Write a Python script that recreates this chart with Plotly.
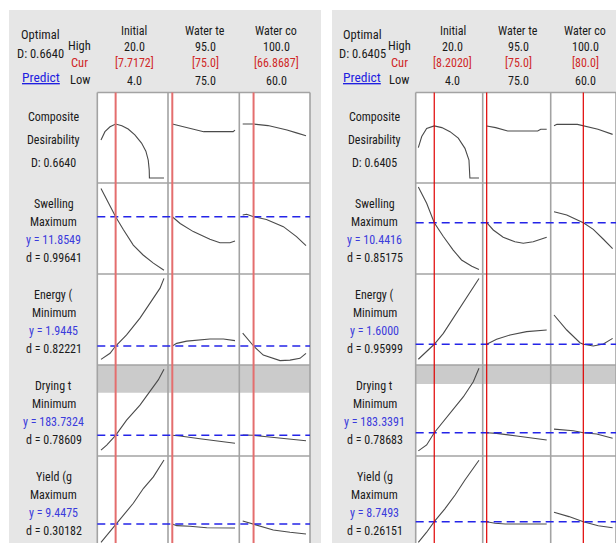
import plotly.graph_objects as go

W, H = 616, 543

# ---------------- data ----------------
factors = ["Initial", "Water te", "Water co"]
f_high = ["20.0", "95.0", "100.0"]
f_low = ["4.0", "75.0", "60.0"]
responses = ["Composite", "Swelling", "Energy (", "Drying t", "Yield (g"]
goals = ["Desirability", "Maximum", "Minimum", "Minimum", "Maximum"]

# panel A (left)
A_D = "0.6640"
A_cur = [7.7172, 75.0, 66.8687]
A_cur_lbl = ["[7.7172]", "[75.0]", "[66.8687]"]
A_resp_y = [None, 11.8549, 1.9445, 183.7324, 9.4475]
A_resp_d = [None, "0.99641", "0.82221", "0.78609", "0.30182"]
A_drying_limit = 254.7

# panel B (right)
B_D = "0.6405"
B_cur = [8.2020, 75.0, 80.0]
B_cur_lbl = ["[8.2020]", "[75.0]", "[80.0]"]
B_resp_y = [None, 10.4416, 1.6000, 183.3391, 8.7493]
B_resp_d = [None, "0.85175", "0.95999", "0.78683", "0.26151"]
B_drying_limit = 264.5

# ---- curves panel A ----
A_comp_initial_x = [4.0, 5.0, 6.3, 7.7172, 9.3, 10.9, 12.6, 14.3, 15.4, 16.0, 16.25, 16.3, 20.0]
A_comp_initial_y = [0.467, 0.57, 0.63, 0.664, 0.643, 0.603, 0.53, 0.43, 0.33, 0.22, 0.10, 0.0, 0.0]
A_comp_watert_x = [75, 80, 85, 90, 94.4, 95]
A_comp_watert_y = [0.664, 0.617, 0.570, 0.570, 0.570, 0.59]
A_comp_waterc_x = [60, 66.8687, 76, 82, 88, 94, 100]
A_comp_waterc_y = [0.664, 0.664, 0.645, 0.62, 0.59, 0.555, 0.52]

A_swel_initial_x = [4, 5.5, 7.7172, 9.7, 12.2, 14.7, 17.3, 20]
A_swel_initial_y = [15.0, 13.7, 11.8549, 10.4, 8.7, 7.6, 6.7, 5.9]
A_swel_watert_x = [75, 77.5, 81.7, 87, 90.2, 93.4, 95]
A_swel_watert_y = [11.8549, 11.1, 10.2, 9.35, 8.97, 8.97, 9.16]
A_swel_waterc_x = [60, 62.5, 66.8687, 75, 85.7, 94, 100]
A_swel_waterc_y = [12.05, 12.12, 11.8549, 11.55, 10.75, 9.65, 8.65]

A_ener_initial_x = [4, 6.3, 7.7172, 10.5, 13.9, 16.9, 19, 20]
A_ener_initial_y = [1.05, 1.46, 1.9445, 2.68, 3.8, 5.0, 5.8, 6.45]
A_ener_watert_x = [75, 76.4, 79.6, 82.8, 87, 91.3, 95]
A_ener_watert_y = [1.9445, 2.12, 2.27, 2.32, 2.41, 2.41, 2.3]
A_ener_waterc_x = [60, 66.8687, 73, 83.6, 89.9, 96.2, 100]
A_ener_waterc_y = [2.8, 1.9445, 1.34, 0.97, 1.0, 1.12, 1.45]

A_dry_initial_x = [4, 5.45, 7.7172, 10.5, 13.9, 16.4, 18.55, 20]
A_dry_initial_y = [159, 167.5, 183.7324, 209, 234, 256, 276, 294]
A_dry_watert_x = [75, 77.5, 83.8, 89.2, 95]
A_dry_watert_y = [183.7324, 182.5, 178, 174.7, 170.4]
A_dry_waterc_x = [60, 66.8687, 75.2, 87.8, 100]
A_dry_waterc_y = [184.3, 183.7324, 181.4, 178, 174.7]

A_yield_initial_x = [4, 5.85, 7.7172, 9.66, 12.2, 14.8, 17.3, 20]
A_yield_initial_y = [6.4, 7.9, 9.4475, 10.95, 12.9, 15.4, 17.3, 20.1]
A_yield_watert_x = [75, 76.4, 80.6, 86, 95]
A_yield_watert_y = [9.4475, 9.17, 9.06, 8.83, 8.78]
A_yield_waterc_x = [60, 66.8687, 79.3, 89.9, 100]
A_yield_waterc_y = [9.95, 9.4475, 8.45, 8.06, 7.78]

# ---- curves panel B ----
B_comp_initial_x = [4, 4.9, 6.2, 7.5, 8.202, 10.2, 12.36, 14.54, 16.3, 17.36, 17.55, 17.6, 20]
B_comp_initial_y = [0.373, 0.51, 0.61, 0.636, 0.6405, 0.62, 0.57, 0.49, 0.365, 0.22, 0.10, 0.0, 0.0]
B_comp_watert_x = [75, 78, 82, 92, 93, 95]
B_comp_watert_y = [0.6405, 0.62, 0.578, 0.578, 0.6, 0.6]
B_comp_waterc_x = [60, 62, 76, 80, 90, 100]
B_comp_waterc_y = [0.643, 0.66, 0.66, 0.6405, 0.6, 0.537]

B_swel_initial_x = [4, 6.2, 8.202, 10.6, 13.2, 15.4, 18.1, 20]
B_swel_initial_y = [14.4, 12.6, 10.4416, 8.9, 7.4, 6.3, 5.6, 5.25]
B_swel_watert_x = [75, 77.2, 80.5, 84.4, 87.2, 90.5, 95]
B_swel_watert_y = [10.4416, 9.63, 8.82, 8.33, 8.15, 8.33, 8.82]
B_swel_waterc_x = [60, 68.7, 80, 86.8, 93.7, 100]
B_swel_waterc_y = [11.66, 11.3, 10.4416, 9.7, 8.6, 7.55]

B_ener_initial_x = [4, 6, 8.202, 10.6, 14.1, 17.2, 20]
B_ener_initial_y = [0.6, 1.08, 1.6, 2.33, 3.66, 4.88, 5.98]
B_ener_watert_x = [75, 78.3, 82.8, 88.3, 95]
B_ener_watert_y = [1.6, 1.93, 2.22, 2.44, 2.55]
B_ener_waterc_x = [60, 68.7, 77.7, 80, 86.8, 93.7, 100]
B_ener_waterc_y = [3.55, 2.55, 1.7, 1.6, 1.48, 1.62, 1.99]

B_dry_initial_x = [4, 6.2, 8.202, 10.6, 13.2, 15.9, 18.5, 20]
B_dry_initial_y = [153, 163, 183.3391, 201.7, 221, 243.4, 268.4, 290.7]
B_dry_watert_x = [75, 78.3, 85, 95]
B_dry_watert_y = [183.3391, 182.3, 177.8, 171.2]
B_dry_waterc_x = [60, 73.2, 80, 89.1, 100]
B_dry_waterc_y = [189.3, 186.5, 183.3391, 181.2, 174]

B_yield_initial_x = [4, 6.2, 8.202, 11, 13.7, 16.3, 20]
B_yield_initial_y = [5.3, 7.0, 8.7493, 10.9, 13.2, 15.7, 19.0]
B_yield_watert_x = [75, 77.8, 81.2, 95]
B_yield_watert_y = [8.7493, 8.48, 8.37, 8.37]
B_yield_waterc_x = [60, 70.2, 80, 90.2, 100]
B_yield_waterc_y = [10.32, 9.6, 8.7493, 8.08, 7.75]

# ---------------- layout geometry (pixels) ----------------
FONT = "Liberation Sans Narrow, Roboto Condensed, DejaVu Sans Condensed, Liberation Sans, Arial"
TXT = "#1a1a1a"
RED_TXT = "#d02828"
BLUE_TXT = "#3b3bdc"
ROW_EDGES = [92.5, 183, 274, 365, 456, 543]

panels = [
    dict(bg=(9, 321), cols=[97.3, 168, 239.3, 310], lab_x=53.5, opt_x=40.5, hcl_x=80,
         head_x=[134, 205, 276], xr=[(3.06, 21.02), (73.63, 96.37), (57.85, 102.53)],
         yr=[(-0.0615, 1.052), (5.49, 15.6), (0.677, 6.743), (149.23, 300.9), (6.28, 20.78)],
         D=A_D, cur=A_cur, cur_lbl=A_cur_lbl, ry=A_resp_y, rd=A_resp_d, lim=A_drying_limit,
         red="rgb(228,110,110)", redw=2.0,
         curves=[[(A_comp_initial_x, A_comp_initial_y), (A_comp_watert_x, A_comp_watert_y), (A_comp_waterc_x, A_comp_waterc_y)],
                 [(A_swel_initial_x, A_swel_initial_y), (A_swel_watert_x, A_swel_watert_y), (A_swel_waterc_x, A_swel_waterc_y)],
                 [(A_ener_initial_x, A_ener_initial_y), (A_ener_watert_x, A_ener_watert_y), (A_ener_waterc_x, A_ener_waterc_y)],
                 [(A_dry_initial_x, A_dry_initial_y), (A_dry_watert_x, A_dry_watert_y), (A_dry_waterc_x, A_dry_waterc_y)],
                 [(A_yield_initial_x, A_yield_initial_y), (A_yield_watert_x, A_yield_watert_y), (A_yield_waterc_x, A_yield_waterc_y)]]),
    dict(bg=(332, 640), cols=[415.7, 482.7, 550.7, 616], lab_x=374.5, opt_x=362, hcl_x=399,
         head_x=[452.7, 518.3, 585], xr=[(3.31, 20.98), (73.67, 96.33), (57.75, 102.3)],
         yr=[(-0.0615, 1.052), (4.74, 14.85), (0.217, 6.283), (144.53, 296.2), (5.2, 19.7)],
         D=B_D, cur=B_cur, cur_lbl=B_cur_lbl, ry=B_resp_y, rd=B_resp_d, lim=B_drying_limit,
         red="rgb(225,0,0)", redw=1.2,
         curves=[[(B_comp_initial_x, B_comp_initial_y), (B_comp_watert_x, B_comp_watert_y), (B_comp_waterc_x, B_comp_waterc_y)],
                 [(B_swel_initial_x, B_swel_initial_y), (B_swel_watert_x, B_swel_watert_y), (B_swel_waterc_x, B_swel_waterc_y)],
                 [(B_ener_initial_x, B_ener_initial_y), (B_ener_watert_x, B_ener_watert_y), (B_ener_waterc_x, B_ener_waterc_y)],
                 [(B_dry_initial_x, B_dry_initial_y), (B_dry_watert_x, B_dry_watert_y), (B_dry_waterc_x, B_dry_waterc_y)],
                 [(B_yield_initial_x, B_yield_initial_y), (B_yield_watert_x, B_yield_watert_y), (B_yield_waterc_x, B_yield_waterc_y)]]),
]


def fx(px):
    return min(max(px / W, 0.0), 1.0)


def fy(py):
    return min(max(1 - py / H, 0.0), 1.0)


fig = go.Figure()
layout = {}
shapes_bg, shapes_mid, shapes_top, annotations = [], [], [], []


def ann(x, y, text, color=TXT, size=12):
    annotations.append(dict(x=fx(x), y=fy(y), xref="paper", yref="paper", text=text,
                            showarrow=False, xanchor="center", yanchor="middle",
                            font=dict(family=FONT, size=size, color=color)))


for p, P in enumerate(panels):
    cols = P["cols"]
    # panel background and plotting region
    shapes_bg.append(dict(type="rect", xref="paper", yref="paper", x0=fx(P["bg"][0]), x1=fx(P["bg"][1]),
                          y0=0, y1=fy(10), fillcolor="#e6e6e6", line=dict(width=0), layer="below"))
    shapes_bg.append(dict(type="rect", xref="paper", yref="paper", x0=fx(cols[0]), x1=fx(cols[3]),
                          y0=0, y1=fy(ROW_EDGES[0]), fillcolor="white", line=dict(width=0), layer="below"))
    for r in range(5):
        for c in range(3):
            idx = p * 15 + r * 3 + c + 1
            s = "" if idx == 1 else str(idx)
            layout["xaxis" + s] = dict(domain=[fx(cols[c]), fx(cols[c + 1])], range=list(P["xr"][c]),
                                       visible=False, fixedrange=True, anchor="y" + s)
            layout["yaxis" + s] = dict(domain=[fy(ROW_EDGES[r + 1]), fy(ROW_EDGES[r])], range=list(P["yr"][r]),
                                       visible=False, fixedrange=True, anchor="x" + s)
            cx, cy = P["curves"][r][c]
            fig.add_trace(go.Scatter(x=cx, y=cy, mode="lines", xaxis="x" + s, yaxis="y" + s,
                                     line=dict(color="#4a4a4a", width=1.1), hoverinfo="skip", showlegend=False))
        s0 = "" if p * 15 + r * 3 + 1 == 1 else str(p * 15 + r * 3 + 1)
        if r == 3:
            shapes_mid.append(dict(type="rect", xref="paper", yref="y" + s0, x0=fx(cols[0]), x1=fx(cols[3]),
                                   y0=P["lim"], y1=P["yr"][r][1], fillcolor="#cbcbcb", line=dict(width=0),
                                   layer="below"))
        if P["ry"][r] is not None:
            shapes_top.append(dict(type="line", xref="paper", yref="y" + s0, x0=fx(cols[0]), x1=fx(cols[3]),
                                   y0=P["ry"][r], y1=P["ry"][r],
                                   line=dict(color="#2424e8", width=1.6, dash="8px,5px"), layer="above"))
    # borders
    for e in cols:
        shapes_mid.append(dict(type="line", xref="paper", yref="paper", x0=fx(e), x1=fx(e), y0=0,
                               y1=fy(ROW_EDGES[0]), line=dict(color="#a3a3a3", width=1.6), layer="below"))
    for e in ROW_EDGES[:-1]:
        shapes_mid.append(dict(type="line", xref="paper", yref="paper", x0=fx(cols[0]), x1=fx(cols[3]),
                               y0=fy(e), y1=fy(e), line=dict(color="#a3a3a3", width=1.6), layer="below"))
    # red current-setting lines
    for c in range(3):
        idx = p * 15 + c + 1
        s = "" if idx == 1 else str(idx)
        shapes_top.append(dict(type="line", xref="x" + s, yref="paper", x0=P["cur"][c], x1=P["cur"][c],
                               y0=0, y1=fy(ROW_EDGES[0]), line=dict(color=P["red"], width=P["redw"]),
                               layer="above"))
    # header text
    ann(P["opt_x"], 34, "Optimal", size=12.5)
    ann(P["opt_x"], 54, "D: " + P["D"], size=12.5)
    ann(P["opt_x"], 77, "<u>Predict</u>", color="#1f1fe0", size=13.5)
    ann(P["hcl_x"], 45.5, "High", size=12.5)
    ann(P["hcl_x"], 62.5, "Cur", color=RED_TXT, size=12.5)
    ann(P["hcl_x"], 79.5, "Low", size=12.5)
    for c in range(3):
        hx = P["head_x"][c]
        ann(hx, 31, factors[c])
        ann(hx, 47.5, f_high[c])
        ann(hx, 63, P["cur_lbl"][c], color=RED_TXT)
        ann(hx, 81, f_low[c])
    # row labels
    ann(P["lab_x"], ROW_EDGES[0] + 24.5, responses[0])
    ann(P["lab_x"], ROW_EDGES[0] + 47.5, goals[0])
    ann(P["lab_x"], ROW_EDGES[0] + 70.5, "D: " + P["D"])
    for r in range(1, 5):
        top = ROW_EDGES[r]
        ann(P["lab_x"], top + 20.5, responses[r])
        ann(P["lab_x"], top + 38.5, goals[r])
        ann(P["lab_x"], top + 57, "y = %.4f" % P["ry"][r], color=BLUE_TXT)
        ann(P["lab_x"], top + 75, "d = " + P["rd"][r])

layout.update(dict(width=W, height=H, margin=dict(l=0, r=0, t=0, b=0), paper_bgcolor="white",
                   plot_bgcolor="rgba(0,0,0,0)", showlegend=False,
                   shapes=shapes_bg + shapes_mid + shapes_top, annotations=annotations,
                   font=dict(family=FONT, size=12, color=TXT)))
fig.update_layout(**layout)
fig.write_html("out.html", config=dict(displayModeBar=False))
